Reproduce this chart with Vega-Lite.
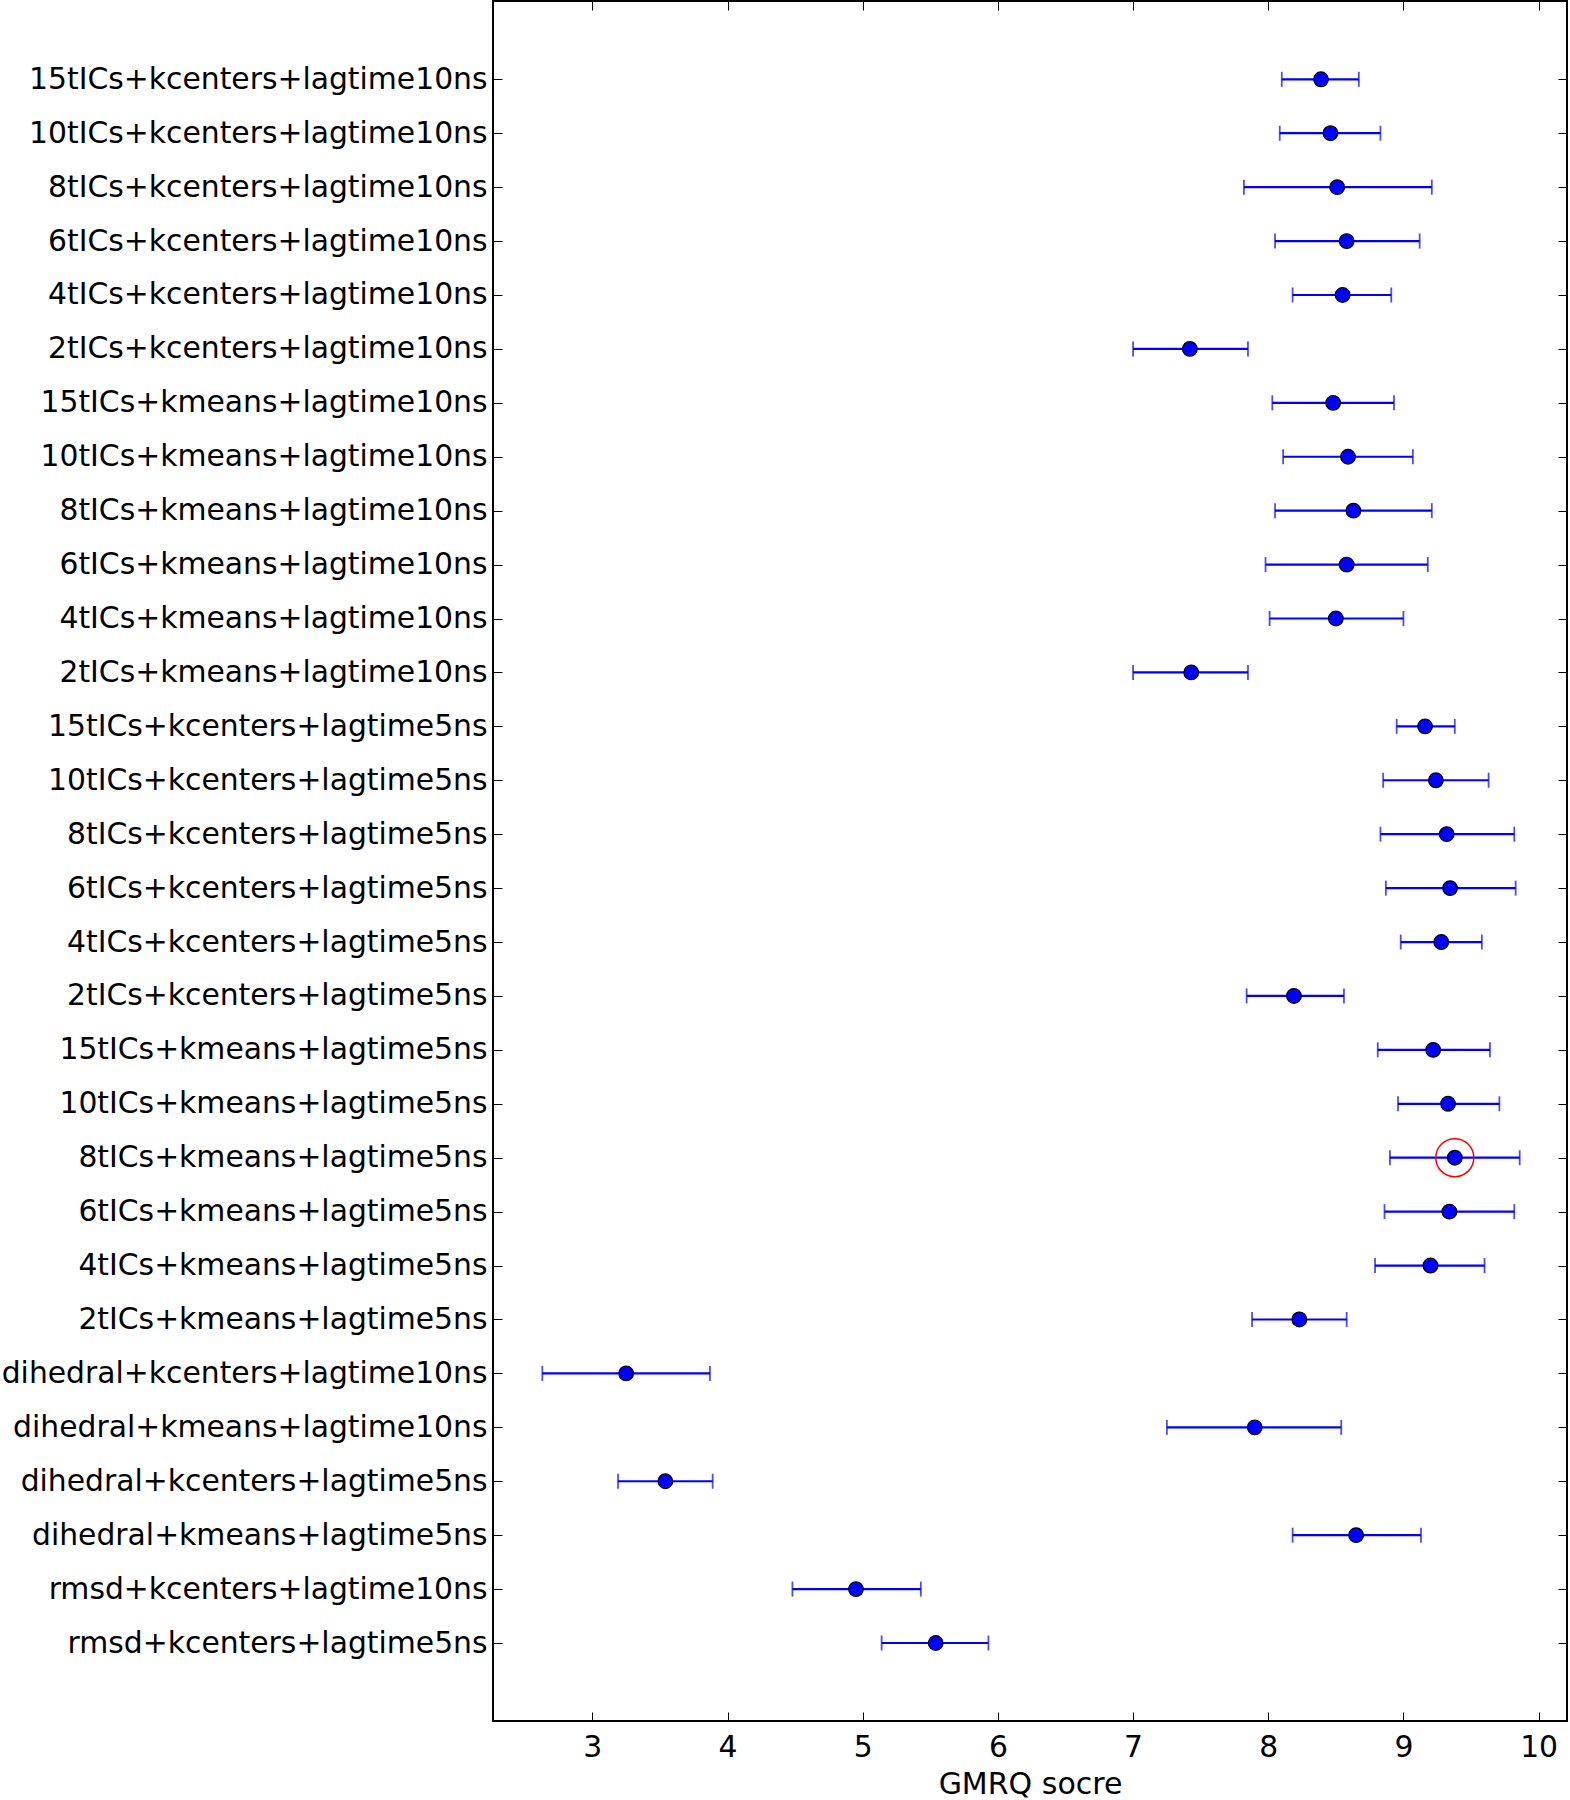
{
  "$schema": "https://vega.github.io/schema/vega-lite/v6.json",
  "width": 1074,
  "height": 1720,
  "autosize": {"type": "none"},
  "padding": {"left": 493, "top": 1, "right": 3, "bottom": 79},
  "background": "white",
  "data": {
    "values": [
      {"name": "15tICs+kcenters+lagtime10ns", "mean": 8.39, "lo": 8.10, "hi": 8.67},
      {"name": "10tICs+kcenters+lagtime10ns", "mean": 8.46, "lo": 8.085, "hi": 8.83},
      {"name": "8tICs+kcenters+lagtime10ns", "mean": 8.51, "lo": 7.82, "hi": 9.21},
      {"name": "6tICs+kcenters+lagtime10ns", "mean": 8.58, "lo": 8.05, "hi": 9.12},
      {"name": "4tICs+kcenters+lagtime10ns", "mean": 8.55, "lo": 8.18, "hi": 8.91},
      {"name": "2tICs+kcenters+lagtime10ns", "mean": 7.42, "lo": 7.00, "hi": 7.85},
      {"name": "15tICs+kmeans+lagtime10ns", "mean": 8.48, "lo": 8.03, "hi": 8.93},
      {"name": "10tICs+kmeans+lagtime10ns", "mean": 8.59, "lo": 8.11, "hi": 9.07},
      {"name": "8tICs+kmeans+lagtime10ns", "mean": 8.63, "lo": 8.05, "hi": 9.21},
      {"name": "6tICs+kmeans+lagtime10ns", "mean": 8.58, "lo": 7.98, "hi": 9.18},
      {"name": "4tICs+kmeans+lagtime10ns", "mean": 8.50, "lo": 8.01, "hi": 9.00},
      {"name": "2tICs+kmeans+lagtime10ns", "mean": 7.43, "lo": 7.00, "hi": 7.85},
      {"name": "15tICs+kcenters+lagtime5ns", "mean": 9.16, "lo": 8.95, "hi": 9.38},
      {"name": "10tICs+kcenters+lagtime5ns", "mean": 9.24, "lo": 8.85, "hi": 9.63},
      {"name": "8tICs+kcenters+lagtime5ns", "mean": 9.32, "lo": 8.83, "hi": 9.82},
      {"name": "6tICs+kcenters+lagtime5ns", "mean": 9.345, "lo": 8.87, "hi": 9.83},
      {"name": "4tICs+kcenters+lagtime5ns", "mean": 9.28, "lo": 8.98, "hi": 9.58},
      {"name": "2tICs+kcenters+lagtime5ns", "mean": 8.19, "lo": 7.84, "hi": 8.56},
      {"name": "15tICs+kmeans+lagtime5ns", "mean": 9.22, "lo": 8.81, "hi": 9.64},
      {"name": "10tICs+kmeans+lagtime5ns", "mean": 9.33, "lo": 8.96, "hi": 9.71},
      {"name": "8tICs+kmeans+lagtime5ns", "mean": 9.38, "lo": 8.90, "hi": 9.86},
      {"name": "6tICs+kmeans+lagtime5ns", "mean": 9.34, "lo": 8.86, "hi": 9.82},
      {"name": "4tICs+kmeans+lagtime5ns", "mean": 9.20, "lo": 8.79, "hi": 9.60},
      {"name": "2tICs+kmeans+lagtime5ns", "mean": 8.23, "lo": 7.88, "hi": 8.58},
      {"name": "dihedral+kcenters+lagtime10ns", "mean": 3.25, "lo": 2.63, "hi": 3.87},
      {"name": "dihedral+kmeans+lagtime10ns", "mean": 7.90, "lo": 7.25, "hi": 8.54},
      {"name": "dihedral+kcenters+lagtime5ns", "mean": 3.54, "lo": 3.19, "hi": 3.89},
      {"name": "dihedral+kmeans+lagtime5ns", "mean": 8.65, "lo": 8.18, "hi": 9.13},
      {"name": "rmsd+kcenters+lagtime10ns", "mean": 4.95, "lo": 4.48, "hi": 5.43},
      {"name": "rmsd+kcenters+lagtime5ns", "mean": 5.54, "lo": 5.14, "hi": 5.93}
    ]
  },
  "layer": [
    {
      "mark": {"type": "rule", "color": "#0000ff", "strokeWidth": 2.2},
      "encoding": {
        "x": {
          "field": "lo", "type": "quantitative",
          "scale": {"domain": [2.265, 10.21], "nice": false, "zero": false},
          "axis": {
            "orient": "bottom", "title": "GMRQ socre",
            "values": [3, 4, 5, 6, 7, 8, 9, 10],
            "tickSize": -9, "labelPadding": 20, "titlePadding": 8
          }
        },
        "x2": {"field": "hi"},
        "y": {
          "field": "name", "type": "nominal", "sort": null,
          "scale": {"type": "point", "padding": 0, "range": [78.3, 1642]},
          "axis": {"orient": "left", "title": null, "tickSize": -9, "labelPadding": 15}
        }
      }
    },
    {
      "mark": {"type": "tick", "color": "#0000ff", "size": 15, "thickness": 1.8, "orient": "vertical"},
      "encoding": {
        "x": {"field": "lo", "type": "quantitative", "axis": null},
        "y": {"field": "name", "type": "nominal", "sort": null, "axis": null}
      }
    },
    {
      "mark": {"type": "tick", "color": "#0000ff", "size": 15, "thickness": 1.8, "orient": "vertical"},
      "encoding": {
        "x": {"field": "hi", "type": "quantitative", "axis": null},
        "y": {"field": "name", "type": "nominal", "sort": null, "axis": null}
      }
    },
    {
      "mark": {"type": "point", "shape": "circle", "filled": true, "fill": "#0000ff", "stroke": "black", "strokeWidth": 1.2, "size": 215, "opacity": 1},
      "encoding": {
        "x": {"field": "mean", "type": "quantitative", "axis": null},
        "y": {"field": "name", "type": "nominal", "sort": null, "axis": null}
      }
    },
    {
      "transform": [
        {"joinaggregate": [{"op": "max", "field": "mean", "as": "best"}]},
        {"filter": "datum.mean === datum.best"}
      ],
      "mark": {"type": "point", "shape": "circle", "filled": false, "stroke": "red", "strokeWidth": 1.5, "size": 1444, "opacity": 1},
      "encoding": {
        "x": {"field": "mean", "type": "quantitative", "axis": null},
        "y": {"field": "name", "type": "nominal", "sort": null, "axis": null}
      }
    },
    {
      "mark": {"type": "point", "opacity": 0},
      "encoding": {
        "x": {
          "field": "mean", "type": "quantitative",
          "axis": {"orient": "top", "title": null, "labels": false, "values": [3, 4, 5, 6, 7, 8, 9, 10], "tickSize": -9}
        },
        "y": {
          "field": "name", "type": "nominal", "sort": null,
          "axis": {"orient": "right", "title": null, "labels": false, "tickSize": -9}
        }
      }
    }
  ],
  "resolve": {"axis": {"x": "independent", "y": "independent"}},
  "config": {
    "view": {"stroke": "black", "strokeWidth": 2},
    "axis": {
      "domain": false,
      "grid": false,
      "ticks": true,
      "tickColor": "black",
      "tickWidth": 1,
      "labelFont": "DejaVu Sans",
      "labelFontSize": 29.8,
      "labelColor": "black",
      "titleFont": "DejaVu Sans",
      "titleFontSize": 30,
      "titleFontWeight": "normal",
      "titleColor": "black",
      "labelOverlap": false,
      "labelFlush": false,
      "labelLimit": 0
    }
  }
}
